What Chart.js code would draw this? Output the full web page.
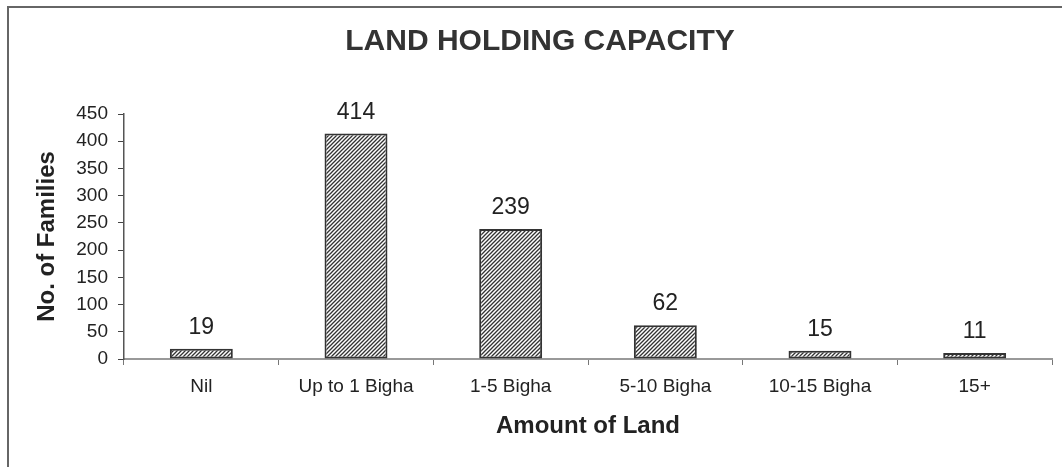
<!DOCTYPE html>
<html>
<head>
<meta charset="utf-8">
<script src="https://cdn.jsdelivr.net/npm/chart.js@4"></script>
<style>
    html, body { margin: 0; padding: 0; background: #fff; }
    #wrap { position: relative; width: 1062px; height: 467px; overflow: hidden; }
    #frame { position: absolute; left: 7px; top: 6px; width: 1100px; height: 500px; border: 2px solid #666; box-sizing: border-box; }
    canvas { position: absolute; left: 0; top: 0; }
</style>
</head>
<body>
<div id="wrap">
    <div id="frame"></div>
    <canvas id="landChart" width="1062" height="467"></canvas>
</div>
<script>
const categories = ['Nil', 'Up to 1 Bigha', '1-5 Bigha', '5-10 Bigha', '10-15 Bigha', '15+'];
const families = [19, 414, 239, 62, 15, 11];
const yTicks = [0, 50, 100, 150, 200, 250, 300, 350, 400, 450];

const FONT = '"Liberation Sans", Arial, sans-serif';

// diagonal hatch fill for the bars
function makeHatch() {
    const size = 4;
    const c = document.createElement('canvas');
    c.width = size;
    c.height = size;
    const g = c.getContext('2d');
    g.fillStyle = '#fff';
    g.fillRect(0, 0, size, size);
    g.strokeStyle = '#333';
    g.lineWidth = 1.3;
    g.beginPath();
    g.moveTo(-1, size + 1);
    g.lineTo(size + 1, -1);
    g.moveTo(-1, 1);
    g.lineTo(1, -1);
    g.moveTo(size - 1, size + 1);
    g.lineTo(size + 1, size - 1);
    g.stroke();
    return g.createPattern(c, 'repeat');
}

const valueLabels = {
    id: 'valueLabels',
    afterDatasetsDraw(chart) {
        const ctx = chart.ctx;
        ctx.save();
        ctx.font = '23px ' + FONT;
        ctx.fillStyle = '#222';
        ctx.textAlign = 'center';
        ctx.textBaseline = 'alphabetic';
        chart.getDatasetMeta(0).data.forEach((bar, i) => {
            ctx.fillText(families[i], bar.x, bar.y - 15);
        });
        ctx.restore();
    }
};

const ctx = document.getElementById('landChart').getContext('2d');
new Chart(ctx, {
    type: 'bar',
    data: {
        labels: categories,
        datasets: [{
            label: 'No. of Families',
            data: families,
            backgroundColor: makeHatch(),
            borderColor: '#333',
            borderWidth: 2,
            borderSkipped: false,
            barPercentage: 0.407,
            categoryPercentage: 1
        }]
    },
    options: {
        responsive: false,
        animation: false,
        layout: { padding: { top: 0, right: 10, bottom: 0, left: 28 } },
        plugins: {
            legend: { display: false },
            tooltip: { enabled: false },
            title: {
                display: true,
                text: 'LAND HOLDING CAPACITY',
                color: '#333',
                font: { family: FONT, size: 30, weight: 'bold' },
                padding: { top: 24, bottom: 54 }
            }
        },
        scales: {
            x: {
                grid: {
                    display: true,
                    drawOnChartArea: false,
                    drawTicks: true,
                    tickLength: 6,
                    color: '#777',
                    offset: true
                },
                border: { color: '#999', width: 2 },
                ticks: {
                    color: '#222',
                    font: { family: FONT, size: 19 },
                    padding: 10,
                    maxRotation: 0
                },
                title: {
                    display: true,
                    text: 'Amount of Land',
                    color: '#222',
                    font: { family: FONT, size: 24, weight: 'bold' },
                    padding: { top: 0, bottom: 26 }
                },
                afterFit(scale) { scale.height = 108; }
            },
            y: {
                min: 0,
                max: 450,
                afterBuildTicks(scale) { scale.ticks = yTicks.map(v => ({ value: v })); },
                grid: {
                    display: true,
                    drawOnChartArea: false,
                    drawTicks: true,
                    tickLength: 6,
                    color: '#444'
                },
                border: { color: '#555', width: 1.5 },
                ticks: {
                    color: '#222',
                    font: { family: FONT, size: 19 },
                    padding: 10
                },
                title: {
                    display: true,
                    text: 'No. of Families',
                    color: '#222',
                    font: { family: FONT, size: 24, weight: 'bold' },
                    padding: { top: 5, bottom: 0 }
                },
                afterFit(scale) { scale.width = 96; }
            }
        }
    },
    plugins: [valueLabels]
});
</script>
</body>
</html>
